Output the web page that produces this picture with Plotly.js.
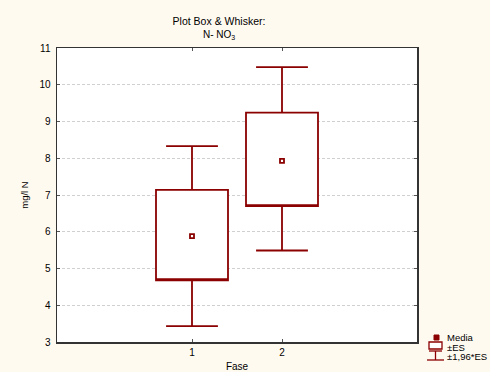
<!DOCTYPE html>
<html>
<head>
<meta charset="utf-8">
<script src="https://cdn.plot.ly/plotly-3.0.1.min.js"></script>
<style>
html,body{margin:0;padding:0;background:#fffaf0;}
#chart{width:490px;height:372px;}
</style>
</head>
<body>
<div id="chart"></div>
<script>
// Data
var fase = [1, 2];
var tickLabels = ['1', '2'];
var media = [5.88, 7.93];
var esLow = [4.68, 6.70];
var esHigh = [7.14, 9.24];
var ciLow = [3.43, 5.49];
var ciHigh = [8.33, 10.48];

var dark = '#8b0000';

var boxTrace = {
  type: 'box',
  x: fase,
  q1: esLow,
  median: esLow,
  q3: esHigh,
  lowerfence: ciLow,
  upperfence: ciHigh,
  width: 0.8,
  whiskerwidth: 0.72,
  fillcolor: '#ffffff',
  line: {color: dark, width: 1.8},
  boxpoints: false,
  hoverinfo: 'skip',
  showlegend: false
};

var meanTrace = {
  type: 'scatter',
  mode: 'markers',
  x: fase,
  y: media,
  marker: {symbol: 'square', size: 4, color: '#ffffff', line: {color: dark, width: 1.8}},
  showlegend: false
};

function px(x){ return (x - 57) / 360; }
function py(y){ return (342 - y) / 294; }

var shapes = [
  // legend: Media marker
  {type:'rect', xref:'paper', yref:'paper', x0:px(434), x1:px(439), y0:py(340), y1:py(335),
   fillcolor: dark, line:{color:dark, width:1}},
  // legend: ±ES box
  {type:'rect', xref:'paper', yref:'paper', x0:px(429), x1:px(442), y0:py(349), y1:py(342),
   fillcolor:'#ffffff', line:{color:dark, width:1.3}},
  // legend: whisker icon
  {type:'line', xref:'paper', yref:'paper', x0:px(429), x1:px(442), y0:py(351), y1:py(351), line:{color:dark, width:1.3}},
  {type:'line', xref:'paper', yref:'paper', x0:px(435.5), x1:px(435.5), y0:py(351), y1:py(360), line:{color:dark, width:1.3}},
  {type:'line', xref:'paper', yref:'paper', x0:px(427), x1:px(444), y0:py(360), y1:py(360), line:{color:dark, width:1.3}}
];

var legFont = {family:'Liberation Sans, Arial, sans-serif', size:9.5, color:'#000'};
var annotations = [
  {xref:'paper', yref:'paper', x:px(446), y:py(337.5), xanchor:'left', yanchor:'middle', text:'Media', showarrow:false, font:legFont, borderpad:0},
  {xref:'paper', yref:'paper', x:px(446), y:py(347), xanchor:'left', yanchor:'middle', text:'±ES', showarrow:false, font:legFont, borderpad:0},
  {xref:'paper', yref:'paper', x:px(446), y:py(356.5), xanchor:'left', yanchor:'middle', text:'±1,96*ES', showarrow:false, font:legFont, borderpad:0},
  {xref:'paper', yref:'paper', x:px(219), y:py(34.5), xanchor:'center', yanchor:'middle', text:'N- NO<sub>3</sub>', showarrow:false,
   font:{family:'Liberation Sans, Arial, sans-serif', size:10, color:'#000'}, borderpad:0}
];

var layout = {
  width: 490,
  height: 372,
  paper_bgcolor: '#fffaf0',
  plot_bgcolor: '#ffffff',
  margin: {l:57, r:73, t:48, b:30},
  font: {family:'Liberation Sans, Arial, sans-serif', size:10, color:'#000'},
  title: {
    text: 'Plot Box & Whisker:',
    font: {family:'Liberation Sans, Arial, sans-serif', size:10.5, color:'#000'},
    x: 219/490, xref:'container', xanchor:'center',
    y: 1 - 21/372, yref:'container', yanchor:'middle'
  },
  xaxis: {
    range: [-0.5, 3.5],
    tickvals: fase,
    ticktext: tickLabels,
    ticks: 'inside', ticklen: 3, tickcolor:'#555',
    showgrid: false, zeroline: false,
    showline: true, linecolor:'#333', linewidth:1.5, mirror:'ticks',
    tickfont: {size:10},
    title: {text:'Fase', font:{size:10}, standoff: 6}
  },
  yaxis: {
    range: [3, 11],
    dtick: 1,
    ticks: 'inside', ticklen: 3, tickcolor:'#555',
    showgrid: true, gridcolor:'#d0d0d0', griddash:'3px,2px', gridwidth:1,
    zeroline: false,
    showline: true, linecolor:'#333', linewidth:1.5, mirror:'ticks',
    tickfont: {size:10},
    ticklabelstandoff: 3,
    title: {text:'mg/l N', font:{size:9.5}, standoff: 9}
  },
  shapes: shapes,
  annotations: annotations,
  showlegend: false
};

Plotly.newPlot('chart', [boxTrace, meanTrace], layout, {displayModeBar:false, staticPlot:true});
</script>
</body>
</html>
